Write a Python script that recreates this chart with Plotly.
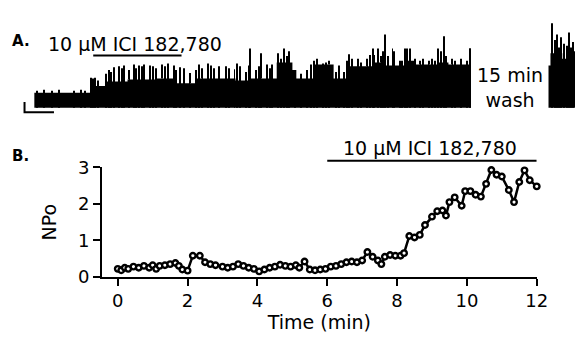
import plotly.graph_objects as go

# ---------------- Panel B data: NPo vs time ----------------
time_min = [0.0, 0.1, 0.2, 0.3, 0.45, 0.6, 0.75, 0.9, 1.0, 1.1, 1.2, 1.35, 1.5, 1.65, 1.75,
            1.85, 2.0, 2.15, 2.35, 2.5, 2.65, 2.8, 3.0, 3.15, 3.3, 3.45, 3.6, 3.75, 3.9, 4.05,
            4.2, 4.35, 4.5, 4.65, 4.8, 4.95, 5.1, 5.2, 5.35, 5.5, 5.65, 5.8, 5.95, 6.1, 6.25,
            6.4, 6.55, 6.7, 6.85, 7.0, 7.15, 7.3, 7.45, 7.55, 7.65, 7.8, 7.95, 8.1, 8.2, 8.35,
            8.5, 8.65, 8.8, 9.0, 9.15, 9.3, 9.4, 9.5, 9.65, 9.85, 9.95, 10.1, 10.25, 10.4,
            10.55, 10.7, 10.85, 11.0, 11.2, 11.35, 11.5, 11.65, 11.8, 12.0]
npo = [0.22, 0.18, 0.25, 0.22, 0.28, 0.25, 0.3, 0.25, 0.32, 0.22, 0.3, 0.32, 0.35, 0.38, 0.3,
       0.2, 0.17, 0.58, 0.58, 0.4, 0.35, 0.32, 0.28, 0.25, 0.28, 0.35, 0.3, 0.25, 0.22, 0.15,
       0.2, 0.25, 0.28, 0.33, 0.3, 0.28, 0.32, 0.25, 0.42, 0.2, 0.18, 0.2, 0.22, 0.28, 0.3,
       0.35, 0.4, 0.42, 0.4, 0.45, 0.68, 0.55, 0.45, 0.35, 0.55, 0.6, 0.58, 0.58, 0.65, 1.12,
       1.08, 1.15, 1.42, 1.65, 1.8, 1.82, 1.68, 2.05, 2.18, 1.95, 2.35, 2.35, 2.25, 2.2,
       2.55, 2.93, 2.8, 2.75, 2.38, 2.05, 2.6, 2.92, 2.65, 2.48]
x_ticks = [0, 2, 4, 6, 8, 10, 12]
y_ticks = [0, 1, 2, 3]
drug_b = [6, 12]
drug_label = "10 μM ICI 182,780"

# ---------------- Panel A data: single-channel record (envelope + openings) ----------------
env1_t = [0, 57, 72, 95, 125, 145, 165, 205, 220, 247, 263, 267, 285, 305, 318, 345, 357, 377, 388, 412, 422, 443, 445]
env1_h = [16, 23, 28, 30, 31, 26, 31, 29, 31, 48, 40, 31, 46, 31, 44, 48, 45, 50, 46, 48, 46, 63, 63]
spk1_t = [3, 10, 18, 25, 40, 48, 52,
          58, 60, 62, 65, 73, 76, 78, 81, 86, 89, 91, 96, 102, 104, 107, 110,
          112, 118, 121, 124, 130, 133, 136, 142, 144, 148, 153, 159,
          165, 168, 171, 177, 180, 183, 188, 195, 198, 204, 207, 210,
          216, 219, 220, 226, 229, 231, 237, 240, 242, 248, 251, 254, 257,
          260, 266, 272, 278, 282, 285, 288, 294, 297, 300, 307, 310,
          316, 319, 321, 324, 330, 333, 339, 342, 345, 346, 350, 353, 355,
          357, 360, 365, 367, 373, 375, 378, 380, 383, 388, 393, 396,
          402, 405, 408, 411, 414, 417, 420, 426, 429, 435, 441, 444]
spk1_h = [18, 19, 18, 19, 18, 19, 18,
          32, 31, 32, 29, 36, 40, 38, 43, 44, 42, 45, 40, 46, 42, 45, 44,
          46, 45, 44, 42, 46, 44, 47, 45, 40, 43, 42, 37,
          40, 46, 42, 47, 45, 42, 44, 44, 42, 41, 47, 44,
          38, 45, 63, 40, 44, 58, 46, 42, 46, 58, 52, 63, 55,
          60, 38, 36, 40, 46, 50, 52, 47, 48, 50, 38, 45,
          38, 50, 57, 52, 52, 48, 52, 56, 63, 56, 63, 55, 60,
          78, 55, 63, 60, 50, 50, 63, 63, 63, 52, 50, 52,
          50, 52, 50, 63, 60, 76, 55, 52, 50, 52, 50, 63]
gap1_t = [33, 63, 96, 130, 160, 170, 193, 203, 212, 222, 232, 268, 300, 338, 352, 363, 392, 403, 425, 432]
gap1_lo = [2, 6, 10, 12, 14, 14, 12, 18, 16, 20, 14, 18, 16, 22, 18, 16, 20, 22, 20, 24]
env2_t = [524, 526, 538, 542, 551]
env2_h = [45, 58, 52, 60, 60]
spk2_t = [528, 531, 533, 535, 537, 540, 543, 545, 547, 549]
spk2_h = [90, 72, 78, 64, 75, 68, 66, 80, 64, 70]
wash_label = "15 min<br>wash"
drug_a = [60, 150]
scale_t = 30
scale_i = 11

# ---------------- figure ----------------
W, H = 586, 341
fig = go.Figure()

fig.add_trace(go.Scatter(x=env1_t, y=env1_h, mode="lines", line=dict(width=0, shape="hv", color="black"),
                         fill="tozeroy", fillcolor="black", xaxis="x2", yaxis="y2", hoverinfo="skip"))
fig.add_trace(go.Scatter(x=env2_t, y=env2_h, mode="lines", line=dict(width=0, shape="hv", color="black"),
                         fill="tozeroy", fillcolor="black", xaxis="x2", yaxis="y2", hoverinfo="skip"))
fig.add_trace(go.Bar(x=spk1_t + spk2_t, y=spk1_h + spk2_h, width=1.0,
                     marker=dict(color="black", line=dict(width=0)), xaxis="x2", yaxis="y2"))
gap_top = []
for t in gap1_t:
    h = env1_h[0]
    for i, tt in enumerate(env1_t):
        if tt <= t:
            h = env1_h[i]
    gap_top.append(h)
fig.add_trace(go.Bar(x=gap1_t, y=[gt - lo for gt, lo in zip(gap_top, gap1_lo)], base=gap1_lo, width=0.8,
                     marker=dict(color="white", line=dict(width=0)), xaxis="x2", yaxis="y2"))
sb_x0 = -10
fig.add_trace(go.Scatter(x=[sb_x0, sb_x0, sb_x0 + scale_t], y=[-5 + scale_i, -5, -5], mode="lines",
                         line=dict(color="black", width=2), xaxis="x2", yaxis="y2"))

fig.add_trace(go.Scatter(x=time_min, y=npo, mode="lines+markers",
                         line=dict(color="black", width=2.5),
                         marker=dict(symbol="circle", size=5.5, color="white", line=dict(color="black", width=2.4)),
                         cliponaxis=False, xaxis="x", yaxis="y"))

bx0, bx1 = 104, 547
by0, by1 = 283.3, 166.7
fig.update_layout(
    width=W, height=H, margin=dict(l=0, r=0, t=0, b=0),
    paper_bgcolor="white", plot_bgcolor="rgba(0,0,0,0)", showlegend=False, barmode="overlay",
    font=dict(family="DejaVu Sans", color="black"),
    xaxis=dict(domain=[bx0 / W, bx1 / W], range=[-0.45, 12.0], tickvals=x_ticks,
               ticks="outside", ticklen=7, tickwidth=2, tickcolor="black",
               showline=True, linecolor="black", linewidth=2, showgrid=False, zeroline=False,
               tickfont=dict(size=18, family="DejaVu Sans"),
               title=dict(text="Time (min)", font=dict(size=19), standoff=3)),
    yaxis=dict(domain=[1 - by0 / H, 1 - by1 / H], range=[0, 3], tickvals=y_ticks,
               ticks="outside", ticklen=7, tickwidth=2, tickcolor="black",
               showline=True, linecolor="black", linewidth=2, showgrid=False, zeroline=False,
               tickfont=dict(size=18, family="DejaVu Sans"),
               title=dict(text="NPo", font=dict(size=19), standoff=16)),
    xaxis2=dict(domain=[0, 1], range=[-35, 551], visible=False, anchor="y2"),
    yaxis2=dict(domain=[0, 1], range=[-238, 103], visible=False, anchor="x2"),
)

fig.add_annotation(x=0, y=1 - 32 / H, xref="paper", yref="paper", text="<b>A.</b>", showarrow=False,
                   xanchor="left", yanchor="middle", font=dict(size=15), xshift=10)
fig.add_annotation(x=(drug_a[0] + drug_a[1]) / 2 - 2, y=1 - 35 / H, xref="x2", yref="paper", text=drug_label,
                   showarrow=False, xanchor="center", yanchor="middle", font=dict(size=19))
fig.add_shape(type="line", x0=drug_a[0], x1=drug_a[1], y0=1 - 47.5 / H, y1=1 - 47.5 / H,
              xref="x2", yref="paper", line=dict(color="black", width=2))
fig.add_annotation(x=520 / W, y=1 - 81 / H, xref="paper", yref="paper", text=wash_label, showarrow=False,
                   xanchor="center", yanchor="middle", font=dict(size=19))

fig.add_annotation(x=0, y=1 - 154 / H, xref="paper", yref="paper", text="<b>B.</b>", showarrow=False,
                   xanchor="left", yanchor="middle", font=dict(size=15), xshift=10)
fig.add_annotation(x=(drug_b[0] + drug_b[1]) / 2 - 0.05, y=1 - 146 / H, xref="x", yref="paper", text=drug_label,
                   showarrow=False, xanchor="center", yanchor="middle", font=dict(size=19))
fig.add_shape(type="line", x0=drug_b[0], x1=drug_b[1], y0=1 - 159.5 / H, y1=1 - 159.5 / H,
              xref="x", yref="paper", line=dict(color="black", width=2))

fig.write_html("out.html", config={"displayModeBar": False},
               post_script="document.documentElement.style.margin='0';document.body.style.margin='0';"
                           "document.body.style.padding='0';document.documentElement.style.overflow='hidden';"
                           "var g=document.querySelector('.plotly-graph-div');"
                           "g.style.position='fixed';g.style.top='0px';g.style.left='0px';")
